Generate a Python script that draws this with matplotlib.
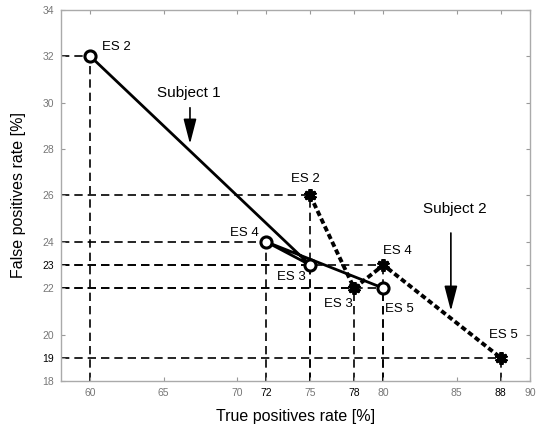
import matplotlib
matplotlib.use("Agg")
import matplotlib.pyplot as plt

plt.rcParams['font.family'] = ['Liberation Sans', 'DejaVu Sans']

# Data
s1_labels = ["ES 2", "ES 3", "ES 4", "ES 5"]
s1_tp = [60, 75, 72, 80]
s1_fp = [32, 23, 24, 22]

s2_labels = ["ES 2", "ES 3", "ES 4", "ES 5"]
s2_tp = [75, 78, 80, 88]
s2_fp = [26, 22, 23, 19]

std_xticks = [60, 65, 70, 75, 80, 85, 90]
extra_xticks = [72, 78, 88]
std_yticks = [18, 20, 22, 24, 26, 28, 30, 32, 34]
extra_yticks = [19, 23]

XMIN, XMAX, YMIN, YMAX = 58, 90, 18, 34

fig = plt.figure(figsize=(5.37, 4.30), dpi=100)
ax = fig.add_axes([0.1136, 0.114, 0.8734, 0.863])

# guide lines
pts = list(zip(s1_tp, s1_fp)) + list(zip(s2_tp, s2_fp))
for x, y in pts:
    ax.plot([XMIN, x], [y, y], color='black', lw=1.2, ls=(0, (5, 3)), zorder=1)
    ax.plot([x, x], [YMIN, y], color='black', lw=1.2, ls=(0, (5, 3)), zorder=1)

ax.plot(s1_tp, s1_fp, color='black', lw=2, marker='o', ms=8,
        mfc='white', mec='black', mew=2.2, zorder=3)
ax.plot(s2_tp, s2_fp, color='black', lw=2.8, ls=(0, (1.4, 0.8)), zorder=2)
ax.plot(s2_tp, s2_fp, ls='none', marker=(6, 2, 0), ms=9, mec='black', mew=2.8, zorder=4)

# ES labels
fs = 9.5
ax.text(60.8, 32.4, s1_labels[0], fontsize=fs, ha='left', va='center')
ax.text(74.7, 22.5, s1_labels[1], fontsize=fs, ha='right', va='center')
ax.text(71.5, 24.4, s1_labels[2], fontsize=fs, ha='right', va='center')
ax.text(80.1, 21.1, s1_labels[3], fontsize=fs, ha='left', va='center')
ax.text(74.7, 26.7, s2_labels[0], fontsize=fs, ha='center', va='center')
ax.text(77.9, 21.3, s2_labels[1], fontsize=fs, ha='right', va='center')
ax.text(80.0, 23.6, s2_labels[2], fontsize=fs, ha='left', va='center')
ax.text(88.2, 20.0, s2_labels[3], fontsize=fs, ha='center', va='center')

# Subject annotations
astyle = '-|>,head_length=0.85,head_width=0.22'
ax.annotate("", xy=(66.8, 28.1), xytext=(66.8, 29.9),
            arrowprops=dict(arrowstyle=astyle, color='black', lw=1.2, mutation_scale=18))
ax.text(66.7, 30.4, "Subject 1", fontsize=11, ha='center', va='center')
ax.annotate("", xy=(84.6, 20.9), xytext=(84.6, 24.5),
            arrowprops=dict(arrowstyle=astyle, color='black', lw=1.2, mutation_scale=18))
ax.text(84.9, 25.4, "Subject 2", fontsize=11, ha='center', va='center')

ax.set_xlim(XMIN, XMAX)
ax.set_ylim(YMIN, YMAX)

xt = sorted(std_xticks + extra_xticks)
yt = sorted(std_yticks + extra_yticks)
ax.set_xticks(xt)
ax.set_yticks(yt)
ax.set_xticklabels([str(v) for v in xt])
ax.set_yticklabels([str(v) for v in yt])
for lab, v in zip(ax.get_xticklabels(), xt):
    lab.set_color('black' if v in extra_xticks else '#777777')
for lab, v in zip(ax.get_yticklabels(), yt):
    lab.set_color('black' if v in extra_yticks else '#777777')
ax.tick_params(axis='both', labelsize=7.5, direction='in', length=3, color='#999999',
               top=True, right=True, pad=5)
for s in ax.spines.values():
    s.set_color('#aaaaaa')
    s.set_linewidth(1)

ax.set_xlabel("True positives rate [%]", fontsize=11.5, labelpad=8)
ax.set_ylabel("False positives rate [%]", fontsize=11.5, labelpad=12)

fig.savefig("out.png", dpi=100)
